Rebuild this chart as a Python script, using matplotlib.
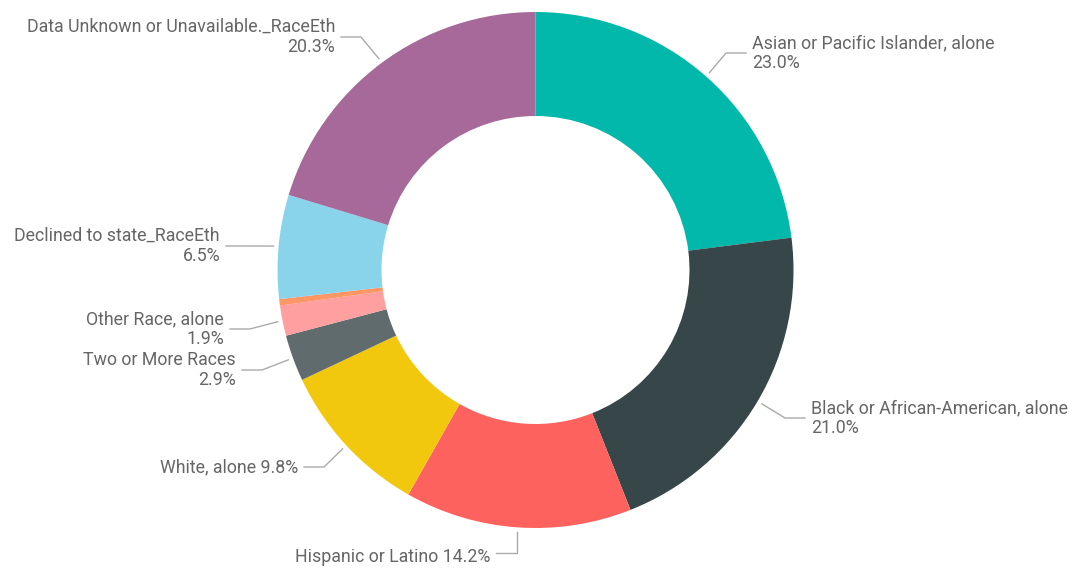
import numpy as np
import matplotlib
matplotlib.use('Agg')
import matplotlib.pyplot as plt

# Data
categories = [
    'Asian or Pacific Islander, alone',
    'Black or African-American, alone',
    'Hispanic or Latino',
    'White, alone',
    'Two or More Races',
    'Other Race, alone',
    'Other',
    'Declined to state_RaceEth',
    'Data Unknown or Unavailable._RaceEth',
]
values = [23.0, 21.0, 14.2, 9.8, 2.9, 1.9, 0.4, 6.5, 20.3]
colors = ['#01B8AA', '#374649', '#FD625E', '#F2C80F', '#5F6B6D',
          '#FF9F9F', '#FE9666', '#8AD4EB', '#A66999']

# label layout: (text x, text y, ha, two_lines)
label_layout = {
    0: (752, 53, 'left', True),
    1: (811, 418, 'left', True),
    2: (490, 557, 'right', False),
    3: (298, 467, 'right', False),
    4: (236, 370, 'right', True),
    5: (224, 329, 'right', True),
    7: (220, 246, 'right', True),
    8: (335, 37, 'right', True),
}

W, H = 1083, 569
fig = plt.figure(figsize=(W / 100, H / 100), dpi=100)
ax = fig.add_axes([0, 0, 1, 1])
ax.set_xlim(0, W)
ax.set_ylim(H, 0)
ax.set_aspect('equal')
ax.axis('off')

cx, cy, r_out, r_in = 535.5, 270, 258, 154
wedges, _ = ax.pie(values, colors=colors, startangle=90, counterclock=False,
                   radius=r_out, center=(cx, cy),
                   wedgeprops=dict(width=r_out - r_in, linewidth=0))
# pie draws with y up; flip the wedges around the center since the axis is inverted
for w in wedges:
    th1, th2 = w.theta1, w.theta2
    w.set_theta1(-th2)
    w.set_theta2(-th1)

ax.set_xlim(0, W)
ax.set_ylim(H, 0)

text_color = '#666666'
line_color = '#AAAAAA'
font = 'Roboto'
fs = 12.8

for i, (tx, ty, ha, two) in label_layout.items():
    w = wedges[i]
    mid = np.deg2rad((w.theta1 + w.theta2) / 2)
    px = cx + (r_out + 5) * np.cos(mid)
    py = cy + (r_out + 5) * np.sin(mid)
    gap = 6
    if ha == 'left':
        ex = tx - gap - 20
        hx = tx - gap
    else:
        ex = tx + gap + 20
        hx = tx + gap
    if i == 2:
        ax.plot([px, px, hx], [py, ty - 4, ty - 4], color=line_color, lw=1)
    else:
        ax.plot([px, ex, hx], [py, ty, ty], color=line_color, lw=1)
    pct = f'{values[i]:.1f}%'
    if two:
        ax.text(tx, ty - 10, categories[i], ha=ha, va='center',
                color=text_color, fontsize=fs, family=font)
        ax.text(tx, ty + 10, pct, ha=ha, va='center',
                color=text_color, fontsize=fs, family=font)
    else:
        ax.text(tx, ty, f'{categories[i]} {pct}', ha=ha, va='center',
                color=text_color, fontsize=fs, family=font)

fig.savefig('out.png', dpi=100)
